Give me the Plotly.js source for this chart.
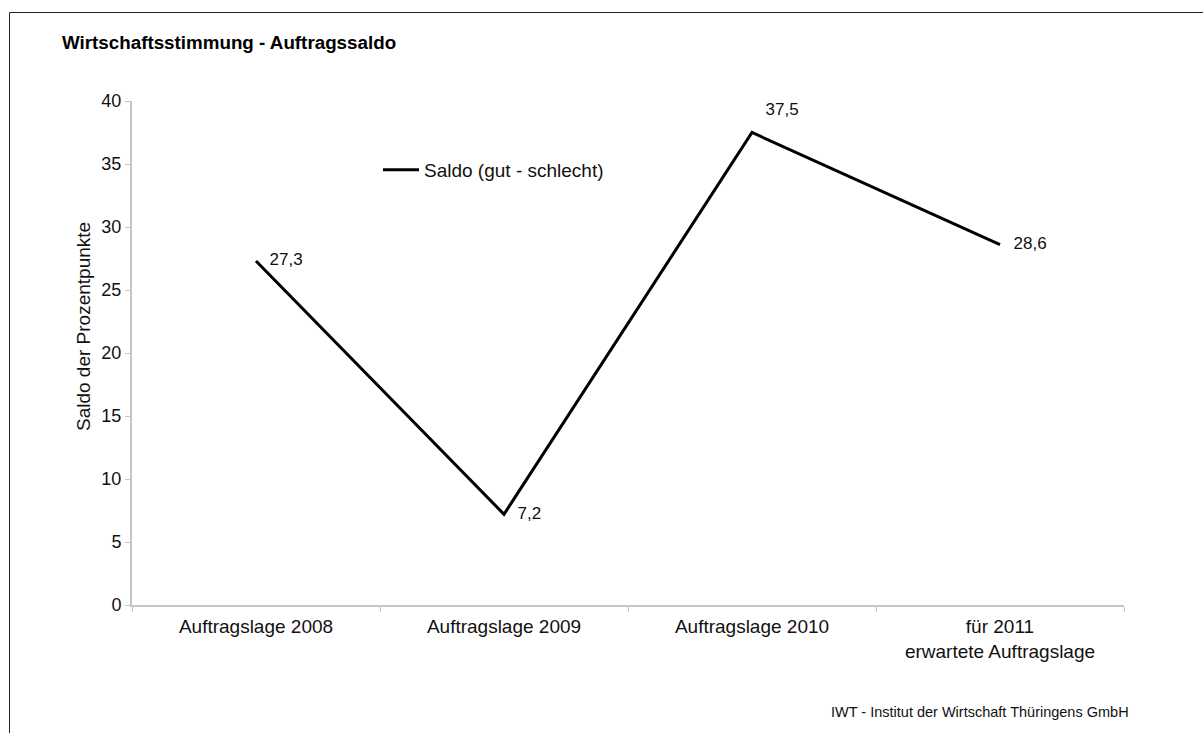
<!DOCTYPE html>
<html>
<head>
<meta charset="utf-8">
<script src="https://cdn.plot.ly/plotly-3.0.1.min.js"></script>
<style>html,body{margin:0;padding:0;background:#fff;}#chart{width:1203px;height:733px;}</style>
</head>
<body>
<div id="chart"></div>
<script>
var categories = ["Auftragslage 2008", "Auftragslage 2009", "Auftragslage 2010", "für 2011<br>erwartete Auftragslage"];
var saldo = [27.3, 7.2, 37.5, 28.6];
var saldoLabels = ["27,3", "7,2", "37,5", "28,6"];
var labelPositions = ["middle right", "middle right", "top right", "middle right"];
var yTicks = [0, 5, 10, 15, 20, 25, 30, 35, 40];

var FONT = '"Liberation Sans", Arial, sans-serif';

var trace = {
  type: 'scatter',
  mode: 'lines+markers+text',
  x: categories,
  y: saldo,
  text: saldoLabels,
  textposition: labelPositions,
  textfont: {family: FONT, size: 17, color: '#111'},
  line: {color: '#000', width: 3},
  marker: {size: 20, color: 'rgba(0,0,0,0)'},
  name: 'Saldo (gut - schlecht)',
  cliponaxis: false,
  hoverinfo: 'skip'
};

var layout = {
  width: 1203, height: 733,
  margin: {l: 132, r: 79, t: 101, b: 128},
  paper_bgcolor: '#fff', plot_bgcolor: '#fff',
  font: {family: FONT, size: 17, color: '#111'},
  title: {text: '<b>Wirtschaftsstimmung - Auftragssaldo</b>', x: 62/1203, xanchor: 'left', y: 1 - 42/733, yanchor: 'middle', font: {family: FONT, size: 18.8, color: '#000'}},
  showlegend: true,
  legend: {x: (378-132)/992, y: (605-170)/504, xanchor: 'left', yanchor: 'middle', itemwidth: 36, bgcolor: 'rgba(0,0,0,0)', font: {family: FONT, size: 19, color: '#111'}},
  xaxis: {
    type: 'category',
    range: [-0.5, 3.5],
    showline: true, linecolor: '#c6c6c6', linewidth: 2,
    ticks: 'outside', tickson: 'boundaries', ticklen: 5, tickcolor: '#c6c6c6', tickwidth: 1,
    ticklabelstandoff: 3,
    showgrid: false, zeroline: false,
    tickfont: {family: FONT, size: 19, color: '#111'},
    fixedrange: true
  },
  yaxis: {
    range: [0, 40],
    tickvals: yTicks,
    ticktext: yTicks.map(String),
    showline: true, linecolor: '#c6c6c6', linewidth: 2,
    ticks: 'outside', ticklen: 5, tickcolor: '#c6c6c6', tickwidth: 1,
    showgrid: false, zeroline: false,
    tickfont: {family: FONT, size: 18, color: '#111'},
    fixedrange: true
  },
  shapes: [{
    type: 'rect', xref: 'paper', yref: 'paper',
    x0: (9.5-132)/992, x1: (1215-132)/992,
    y0: (605-745)/504, y1: (605-12.5)/504,
    line: {color: '#222', width: 1}, fillcolor: 'rgba(0,0,0,0)', layer: 'below'
  }],
  annotations: [{
    text: 'Saldo der Prozentpunkte',
    xref: 'paper', yref: 'paper',
    x: (83-132)/992, y: (605-327)/504, xanchor: 'center', yanchor: 'middle',
    textangle: -90,
    showarrow: false, font: {family: FONT, size: 19, color: '#111'}
  }, {
    text: 'IWT - Institut der Wirtschaft Thüringens GmbH',
    xref: 'paper', yref: 'paper',
    x: (1131-132)/992, y: (605-712)/504, xanchor: 'right', yanchor: 'middle',
    showarrow: false, font: {family: FONT, size: 14.5, color: '#111'}
  }]
};

Plotly.newPlot('chart', [trace], layout, {displayModeBar: false, staticPlot: true});
</script>
</body>
</html>
